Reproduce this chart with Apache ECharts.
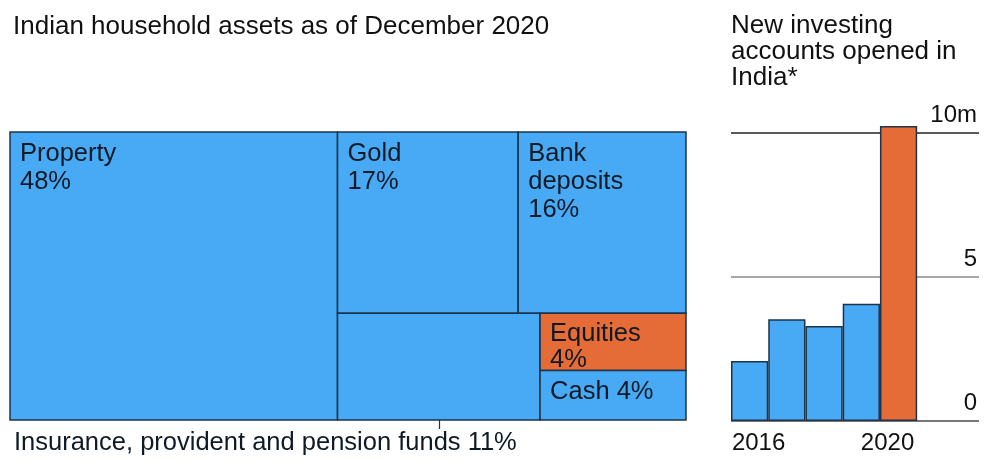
<!DOCTYPE html>
<html><head><meta charset="utf-8">
<script src="https://cdn.jsdelivr.net/npm/echarts@6/dist/echarts.min.js"></script>
<style>html,body{margin:0;padding:0;background:#fff}#c{width:994px;height:470px}</style>
</head><body><div id="c"></div>
<script>
// ---- data (shares in %; labels show rounded values) ----
const assetNames = ['Property', 'Gold', 'Bank deposits', 'Insurance, provident and pension funds', 'Equities', 'Cash'];
const assetShares = [48.4, 16.8, 15.6, 11.1, 4.3, 3.7];
const years = [2016, 2017, 2018, 2019, 2020];
const newAccounts = [2.08, 3.53, 3.30, 4.07, 10.24]; // millions
const xLabelYears = [2016, 2020];

// ---- styling / structure ----
const FONT = '"Liberation Sans", Arial, sans-serif';
const BLUE = '#48aaf4', ORANGE = '#e56c37', EDGE = '#1c3349', TEXT = '#0f1a26';
const highlightAsset = 'Equities';
const outsideAsset = 'Insurance, provident and pension funds';
// nesting: 'row' = side by side, 'col' = stacked; leaves are asset indices
const treeLayout = ['row', 0, ['col', ['row', 1, 2], ['row', 3, ['col', 4, 5]]]];

function total(node) {
  return typeof node === 'number' ? assetShares[node] : node.slice(1).reduce((s, n) => s + total(n), 0);
}
function layout(node, x0, y0, x1, y1, out) {
  if (typeof node === 'number') { out[node] = [x0, y0, x1, y1]; return; }
  const t = total(node); let acc = 0;
  node.slice(1).forEach(k => {
    const f0 = acc / t; acc += total(k); const f1 = acc / t;
    if (node[0] === 'row') layout(k, x0 + (x1 - x0) * f0, y0, x0 + (x1 - x0) * f1, y1, out);
    else layout(k, x0, y0 + (y1 - y0) * f0, x1, y0 + (y1 - y0) * f1, out);
  });
}
const cells = [];
layout(treeLayout, 0, 0, 100, 100, cells);
const cellData = cells.map((r, i) => [r[0], r[1], r[2], r[3], assetShares[i], i]);

function renderCell(params, api) {
  const i = api.value(5);
  const p0 = api.coord([api.value(0), api.value(1)]);
  const p1 = api.coord([api.value(2), api.value(3)]);
  const w = p1[0] - p0[0], h = p1[1] - p0[1];
  const name = assetNames[i], share = Math.round(api.value(4));
  const children = [{
    type: 'rect',
    shape: { x: p0[0], y: p0[1], width: w, height: h },
    style: { fill: name === highlightAsset ? ORANGE : BLUE, stroke: EDGE, lineWidth: 1.5 }
  }];
  if (name === outsideAsset) {
    const base = api.coord([0, 100]);
    const cx = Math.round((p0[0] + p1[0]) / 2) + 0.5;
    children.push({ type: 'line', shape: { x1: cx, y1: p1[1], x2: cx, y2: p1[1] + 9 },
      style: { stroke: EDGE, lineWidth: 1.2 } });
    children.push({ type: 'text', x: base[0] + 4, y: base[1] + 9,
      style: { text: name + ' ' + share + '%', fontSize: 25.5, fontFamily: FONT, fill: TEXT,
        align: 'left', verticalAlign: 'top', lineHeight: 27 } });
  } else {
    const oneLine = h < 55;
    const lh = h < 65 ? 26 : 28;
    children.push({ type: 'text', x: p0[0] + 10, y: p0[1] + 8,
      style: { text: oneLine ? name + ' ' + share + '%' : name + '\n' + share + '%',
        width: w - 20, overflow: 'break', fontSize: 25.5, lineHeight: lh, fontFamily: FONT,
        fill: TEXT, align: 'left', verticalAlign: 'top' } });
  }
  return { type: 'group', children };
}

const chart = echarts.init(document.getElementById('c'));
chart.setOption({
  animation: false,
  backgroundColor: '#fff',
  title: [
    { text: 'Indian household assets as of December 2020', left: 13, top: 13, padding: 0,
      textStyle: { fontSize: 26, fontWeight: 'normal', color: '#111', fontFamily: FONT, lineHeight: 27 } },
    { text: 'New investing\naccounts opened in\nIndia*', left: 731, top: 13, padding: 0,
      textStyle: { fontSize: 26, fontWeight: 'normal', color: '#111', fontFamily: FONT, lineHeight: 26 } }
  ],
  grid: [
    { left: 10, top: 132, width: 676, height: 288 },
    { left: 731, right: 15, top: 133, bottom: 49 }
  ],
  xAxis: [
    { gridIndex: 0, type: 'value', min: 0, max: 100, show: false },
    { gridIndex: 1, type: 'value', min: 2015.5, max: 2022.16,
      axisLine: { show: false }, axisTick: { show: false }, splitLine: { show: false },
      axisLabel: {
        customValues: xLabelYears, margin: 10, color: '#111', fontSize: 24, fontFamily: FONT,
        formatter: v => (v === xLabelYears[0] ? '{l|' + v + '}' : '{r|' + v + '}'),
        rich: {
          l: { padding: [0, 0, 0, 18], fontSize: 24, fontFamily: FONT, color: '#111' },
          r: { padding: [0, 22, 0, 0], fontSize: 24, fontFamily: FONT, color: '#111' }
        }
      } }
  ],
  yAxis: [
    { gridIndex: 0, type: 'value', min: 0, max: 100, inverse: true, show: false },
    { gridIndex: 1, type: 'value', min: 0, max: 10, interval: 5, position: 'right',
      axisLine: { show: false }, axisTick: { show: false },
      splitLine: { show: true, lineStyle: { color: ['#4a4a4a', '#8a8a8a', '#222'], width: 1.5 } },
      axisLabel: { inside: true, margin: 2, verticalAlign: 'bottom', padding: [0, 0, 6, 0],
        color: '#111', fontSize: 24, fontFamily: FONT,
        formatter: v => (v === 10 ? v + 'm' : String(v)) } }
  ],
  series: [
    { type: 'custom', xAxisIndex: 0, yAxisIndex: 0, renderItem: renderCell, data: cellData,
      encode: { x: [0, 2], y: [1, 3] }, silent: true, clip: false },
    { type: 'bar', xAxisIndex: 1, yAxisIndex: 1, barWidth: '100%', clip: false,
      data: years.map((y, i) => [y, newAccounts[i]]),
      itemStyle: {
        borderColor: EDGE, borderWidth: 1.5,
        color: p => (p.value[0] === years[years.length - 1] ? ORANGE : BLUE)
      } }
  ]
});
</script></body></html>
